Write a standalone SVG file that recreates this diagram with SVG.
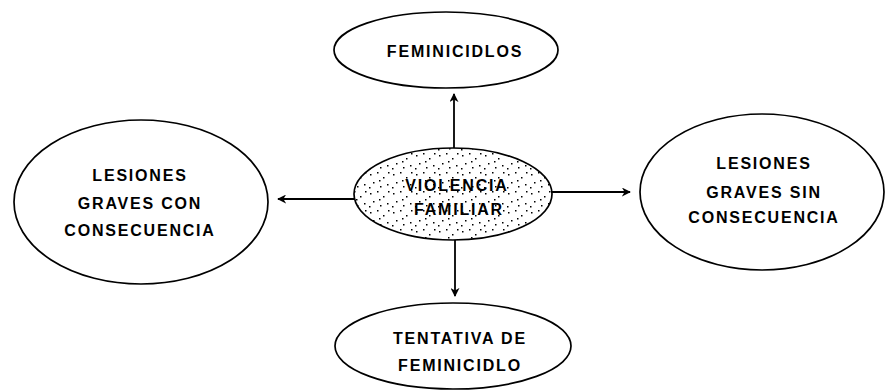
<svg xmlns="http://www.w3.org/2000/svg" width="887" height="390" viewBox="0 0 887 390">
<style>
.node ellipse{fill:#fff;stroke:#000;stroke-width:1.7}
.lbl{font-family:"Liberation Sans",Arial,sans-serif;font-size:16px;font-weight:bold;letter-spacing:1.8px;text-anchor:middle;fill:#000}
.conn line{stroke:#000;stroke-width:1.8}
</style>
<defs>
<marker id="arr" viewBox="0 0 10 10" refX="9" refY="5" markerWidth="5" markerHeight="5" orient="auto" markerUnits="strokeWidth">
<path d="M0,0 L10,5 L0,10 L3,5 Z" fill="#000"/>
</marker>
<pattern id="stip" width="23" height="19" patternUnits="userSpaceOnUse">
<rect width="23" height="19" fill="#fff"/>
<rect x="2" y="3" width="1.5" height="1.5" fill="#000"/>
<rect x="9" y="1" width="1.5" height="1.5" fill="#000"/>
<rect x="15" y="6" width="1.5" height="1.5" fill="#000"/>
<rect x="5" y="11" width="1.5" height="1.5" fill="#000"/>
<rect x="19" y="13" width="1.5" height="1.5" fill="#000"/>
<rect x="12" y="15" width="1.5" height="1.5" fill="#000"/>
<rect x="20" y="1" width="1.5" height="1.5" fill="#000"/>
<rect x="1" y="16" width="1.5" height="1.5" fill="#000"/>
<rect x="11" y="9" width="1.5" height="1.5" fill="#000"/>
</pattern>
</defs>
<g class="conn" id="connectors">
<line x1="454" y1="148" x2="454" y2="94" marker-end="url(#arr)"/>
<line x1="355" y1="199" x2="278" y2="199" marker-end="url(#arr)"/>
<line x1="552" y1="192" x2="630" y2="192" marker-end="url(#arr)"/>
<line x1="455" y1="240" x2="455" y2="296" marker-end="url(#arr)"/>
</g>
<g class="node" id="feminicidios">
<ellipse cx="446" cy="50" rx="112" ry="38"/>
<text class="lbl" x="455" y="57">FEMINICIDLOS</text>
</g>
<g class="node" id="violencia">
<ellipse cx="453" cy="194" rx="99" ry="46" style="fill:url(#stip)"/>
<text class="lbl" x="457" y="191">VIOLENCIA</text>
<text class="lbl" x="459" y="215">FAMILIAR</text>
</g>
<g class="node" id="con">
<ellipse cx="141" cy="202" rx="127" ry="82"/>
<text class="lbl" x="140" y="181">LESIONES</text>
<text class="lbl" x="140" y="209">GRAVES CON</text>
<text class="lbl" x="140" y="236">CONSECUENCIA</text>
</g>
<g class="node" id="sin">
<ellipse cx="762" cy="192" rx="122" ry="78"/>
<text class="lbl" x="764" y="169">LESIONES</text>
<text class="lbl" x="764" y="198">GRAVES SIN</text>
<text class="lbl" x="764" y="223">CONSECUENCIA</text>
</g>
<g class="node" id="tentativa">
<ellipse cx="453" cy="346" rx="118" ry="43"/>
<text class="lbl" x="460" y="344">TENTATIVA DE</text>
<text class="lbl" x="460" y="371">FEMINICIDLO</text>
</g>
</svg>
